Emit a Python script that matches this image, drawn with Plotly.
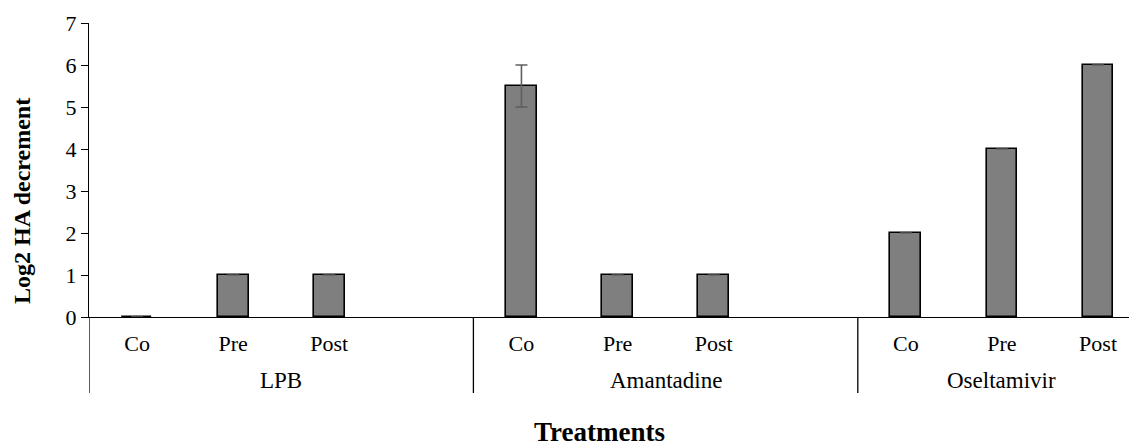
import plotly.graph_objects as go

# ---- data ----
group_names = ["LPB", "Amantadine", "Oseltamivir"]
sub_labels = ["Co", "Pre", "Post"]
lpb_values = [0, 1, 1]
amantadine_values = [5.5, 1, 1]
oseltamivir_values = [2, 4, 6]
lpb_errors = [0, 0, 0]
amantadine_errors = [0.5, 0, 0]
oseltamivir_errors = [0, 0, 0]
y_ticks = [0, 1, 2, 3, 4, 5, 6, 7]

all_values = [lpb_values, amantadine_values, oseltamivir_values]
all_errors = [lpb_errors, amantadine_errors, oseltamivir_errors]

FONT = "Liberation Serif"
SLOTS_PER_GROUP = 4  # 3 treatments + 1 blank slot

xs, ys, es, tick_text = [], [], [], []
for gi, g in enumerate(group_names):
    for si, s in enumerate(sub_labels):
        xs.append(gi * SLOTS_PER_GROUP + si)
        ys.append(all_values[gi][si])
        es.append(all_errors[gi][si])
        tick_text.append(s)

fig = go.Figure()
fig.add_trace(go.Bar(
    x=xs, y=ys, width=0.32,
    marker=dict(color="#7f7f7f", line=dict(color="black", width=1.6)),
    error_y=dict(type="data", array=es, visible=True, color="#5f5f5f",
                 thickness=1.6, width=6),
    showlegend=False,
))

OFF = 8  # page body margin
W, H = 1137 - OFF, 448 - OFF
L, R, T = 89 - OFF, 0, 23 - OFF
B = H - (317 - OFF)
plot_h = H - T - B
x_right = -0.5 + (W - L - R) / 96.1

def py(pix):
    # page pixel y -> paper y
    return (H - B - (pix - OFF)) / plot_h

def px(pix):
    return (pix - OFF - L) / (W - L - R)

fig.update_layout(
    width=W, height=H,
    margin=dict(l=L, r=R, t=T, b=B, pad=0),
    plot_bgcolor="white", paper_bgcolor="white",
    font=dict(family=FONT, size=22, color="black"),
    bargap=0,
)
fig.update_yaxes(
    range=[0, 7], tickvals=y_ticks, showgrid=False, zeroline=False,
    showline=True, linecolor="black", linewidth=1.3,
    ticks="outside", ticklen=7, tickcolor="black", tickwidth=1.3,
    tickfont=dict(family=FONT, size=22, color="black"),
)
fig.update_xaxes(
    range=[-0.5, x_right], tickvals=xs, ticktext=tick_text,
    showgrid=False, zeroline=False, showline=True, linecolor="black",
    linewidth=1.3, ticks="", ticklabelstandoff=6,
    tickfont=dict(family=FONT, size=22, color="black"),
)

# group separators (incl. extension of y axis)
sep_bottom = py(393)
for gi in range(len(group_names)):
    xsep = gi * SLOTS_PER_GROUP - 0.5
    fig.add_shape(type="line", xref="x", yref="paper", x0=xsep, x1=xsep,
                  y0=0, y1=sep_bottom, line=dict(color="black", width=1.3))

# group labels
for gi, g in enumerate(group_names):
    n_in_group = SLOTS_PER_GROUP if gi < len(group_names) - 1 else len(sub_labels)
    center = gi * SLOTS_PER_GROUP + (n_in_group - 1) / 2
    fig.add_annotation(x=center, y=py(380), xref="x", yref="paper",
                       text=g, showarrow=False, yanchor="middle",
                       font=dict(family=FONT, size=23, color="black"))

# axis titles
fig.add_annotation(x=px(22), y=py(201), xref="paper", yref="paper",
                   text="<b>Log2 HA decrement</b>", textangle=-90,
                   showarrow=False, xanchor="center", yanchor="middle",
                   font=dict(family=FONT, size=24, color="black"))
fig.add_annotation(x=px(599), y=py(432), xref="paper", yref="paper",
                   text="<b>Treatments</b>", showarrow=False,
                   xanchor="center", yanchor="middle",
                   font=dict(family=FONT, size=27, color="black"))

fig.write_html("out.html")
